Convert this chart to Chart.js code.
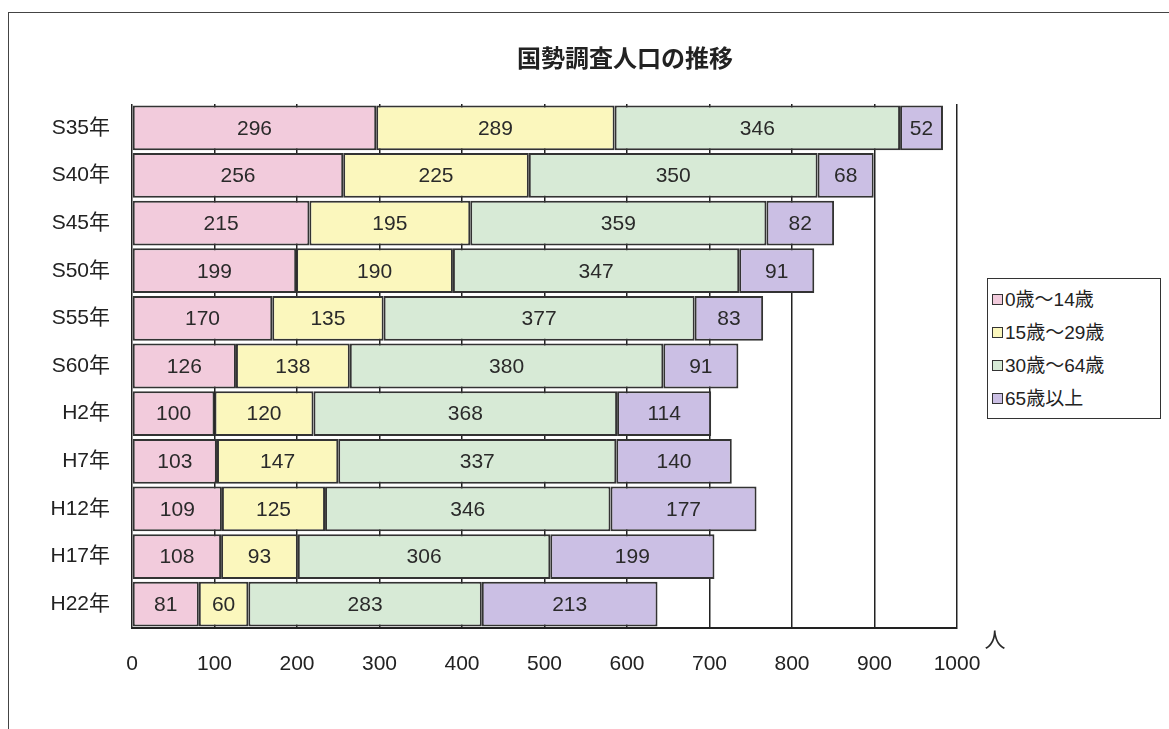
<!DOCTYPE html>
<html>
<head>
<meta charset="utf-8">
<script src="https://cdn.jsdelivr.net/npm/chart.js@4"></script>
<style>
	html, body { margin: 0; padding: 0; background: #fff; }
	#wrap { position: relative; width: 1169px; height: 729px; overflow: hidden; }
	#frame { position: absolute; left: 8px; top: 12px; width: 1170px; height: 730px; border: 1.5px solid #444; box-sizing: border-box; }
	#legend { position: absolute; left: 987px; top: 278px; width: 174px; height: 141px; border: 1.5px solid #333; box-sizing: border-box; background: #fff; padding: 4px 0 0 4px; font-family: "Liberation Sans", "Noto Sans CJK JP", sans-serif; font-size: 19px; color: #222; }
	#legend div { height: 33px; line-height: 33px; white-space: nowrap; }
	#legend span { display: inline-block; width: 9px; height: 9px; border: 1.5px solid #333; margin-right: 2px; vertical-align: 1px; }
</style>
</head>
<body>
<div id="wrap">
	<div id="frame"></div>
	<canvas id="chart" width="1169" height="729"></canvas>
	<div id="legend"></div>
</div>
<script>
const categories = ["S35年", "S40年", "S45年", "S50年", "S55年", "S60年", "H2年", "H7年", "H12年", "H17年", "H22年"];
const seriesNames = ["0歳～14歳", "15歳～29歳", "30歳～64歳", "65歳以上"];
const age0to14 = [296, 256, 215, 199, 170, 126, 100, 103, 109, 108, 81];
const age15to29 = [289, 225, 195, 190, 135, 138, 120, 147, 125, 93, 60];
const age30to64 = [346, 350, 359, 347, 377, 380, 368, 337, 346, 306, 283];
const age65plus = [52, 68, 82, 91, 83, 91, 114, 140, 177, 199, 213];
const xTicks = [0, 100, 200, 300, 400, 500, 600, 700, 800, 900, 1000];

const colors = ["#f2cbdc", "#fbf7bd", "#d7ead6", "#cbbfe4"];
const values = [age0to14, age15to29, age30to64, age65plus];
const font = '"Liberation Sans", "Noto Sans CJK JP", sans-serif';

// numbers in the middle of each segment, title and unit
const barLabels = {
	id: "barLabels",
	afterDatasetsDraw(chart) {
		const ctx = chart.ctx;
		const area = chart.chartArea;
		ctx.save();
		ctx.font = "21px " + font;
		ctx.fillStyle = "#2a2a2a";
		ctx.textAlign = "center";
		ctx.textBaseline = "middle";
		chart.data.datasets.forEach((ds, i) => {
			chart.getDatasetMeta(i).data.forEach((el, j) => {
				ctx.fillText(ds.data[j], (el.x + el.base) / 2, el.y + 1);
			});
		});
		ctx.fillText("人", area.right + 38, area.bottom + 13);
		ctx.font = "bold 24px " + font;
		ctx.fillStyle = "#222";
		ctx.fillText("国勢調査人口の推移", 625, 60);
		ctx.restore();
	}
};

new Chart(document.getElementById("chart"), {
	type: "bar",
	data: {
		labels: categories,
		datasets: seriesNames.map((name, i) => ({
			label: name,
			data: values[i],
			backgroundColor: colors[i],
			borderColor: "#333",
			borderWidth: 2,
			borderSkipped: false,
			barPercentage: 0.94,
			categoryPercentage: 1
		}))
	},
	options: {
		indexAxis: "y",
		responsive: false,
		animation: false,
		layout: { padding: { left: 0, right: 212, top: 104, bottom: 0 } },
		scales: {
			x: {
				stacked: true,
				min: 0,
				max: 1000,
				afterBuildTicks(scale) { scale.ticks = xTicks.map(v => ({ value: v })); },
				afterFit(scale) { scale.height = 101; },
				grid: { color: "#222", lineWidth: 1.5, drawTicks: false },
				border: { display: true, color: "#222", width: 2 },
				ticks: { padding: 24, color: "#222", font: { size: 21, family: font }, callback: v => String(v) }
			},
			y: {
				stacked: true,
				afterFit(scale) { scale.width = 132; },
				grid: { display: false, drawTicks: false },
				border: { display: false },
				ticks: { padding: 22, color: "#222", font: { size: 21, family: font } }
			}
		},
		plugins: {
			legend: { display: false },
			tooltip: { enabled: false },
			title: { display: false }
		}
	},
	plugins: [barLabels]
});

document.getElementById("legend").innerHTML = seriesNames.map((name, i) =>
	'<div><span style="background:' + colors[i] + '"></span>' + name + '</div>').join("");
</script>
</body>
</html>
